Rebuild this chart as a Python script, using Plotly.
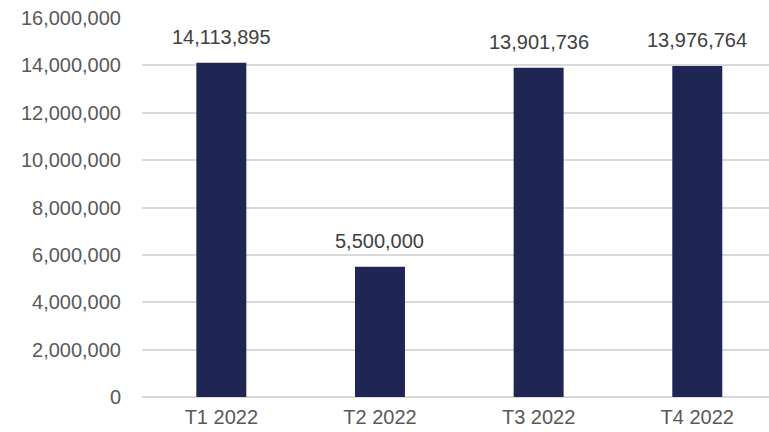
import plotly.graph_objects as go

quarters = ["T1 2022", "T2 2022", "T3 2022", "T4 2022"]
values = [14113895, 5500000, 13901736, 13976764]
y_ticks = [0, 2000000, 4000000, 6000000, 8000000, 10000000, 12000000, 14000000, 16000000]

FONT = "Liberation Sans, Arial"

fig = go.Figure(
    go.Bar(
        x=quarters,
        y=values,
        width=0.315,
        marker=dict(color="#1f2654", line=dict(width=0)),
        hoverinfo="x+y",
    )
)

# value labels above each bar
for q, v in zip(quarters, values):
    fig.add_annotation(
        x=q,
        y=v,
        text=f"{v:,}",
        showarrow=False,
        yanchor="bottom",
        yshift=13,
        font=dict(family=FONT, size=20, color="#404040"),
    )

fig.update_layout(
    width=769,
    height=432,
    margin=dict(l=142, r=0, t=18, b=35),
    paper_bgcolor="white",
    plot_bgcolor="white",
    showlegend=False,
    font=dict(family=FONT, size=20, color="#595959"),
    xaxis=dict(
        type="category",
        range=[-0.5, 3.452],
        showgrid=False,
        showline=False,
        ticks="",
        ticklabelstandoff=6,
        tickfont=dict(size=20, color="#595959"),
    ),
    yaxis=dict(
        range=[0, 16000000],
        tickvals=y_ticks,
        ticktext=[f"{t:,}" for t in y_ticks],
        showgrid=True,
        gridcolor="#d9d9d9",
        gridwidth=1.5,
        zeroline=True,
        zerolinecolor="#d9d9d9",
        zerolinewidth=1.5,
        showline=False,
        ticks="",
        ticklabelstandoff=20,
        tickfont=dict(size=20, color="#595959"),
    ),
)

fig.write_html("out.html")
